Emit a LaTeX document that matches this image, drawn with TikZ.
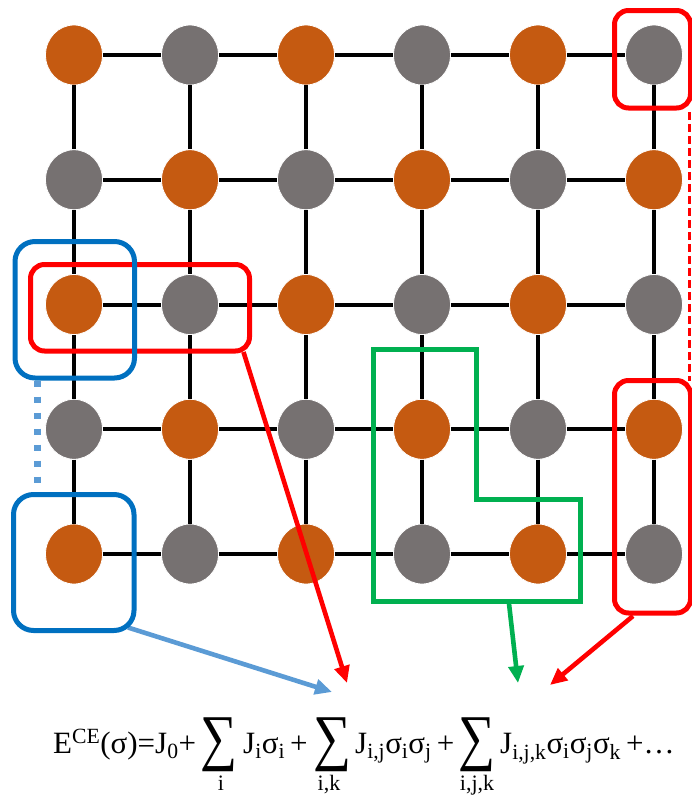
\documentclass[tikz,border=0pt]{standalone}
\usepackage{fontspec}
\usepackage{graphicx}
\setmainfont{Liberation Serif}
\usetikzlibrary{shapes.geometric,arrows.meta}

\definecolor{siteO}{HTML}{C55A11}
\definecolor{siteG}{HTML}{767171}
\definecolor{clusterR}{HTML}{FF0000}
\definecolor{clusterB}{HTML}{0070C0}
\definecolor{linkB}{HTML}{5B9BD5}
\definecolor{clusterG}{HTML}{00B050}

\pgfdeclarelayer{lattice}
\pgfdeclarelayer{links}
\pgfsetlayers{lattice,links,main}

\begin{document}
\begin{tikzpicture}[x=1pt,y=-1pt,
  site/.style={ellipse,minimum width=57pt,minimum height=60pt,inner sep=0pt,draw=white,line width=0.8pt},
  siteo/.style={site,fill=siteO},
  siteg/.style={site,fill=siteG},
  bond/.style={line width=4pt,black},
  clusterbox/.style={rectangle,inner sep=0pt,outer sep=0pt,line width=5pt},
  redbox/.style={clusterbox,draw=clusterR,rounded corners=14pt},
  bluebox/.style={clusterbox,draw=clusterB,rounded corners=20pt},
  pointer/.style={line width=4.6pt,-{Triangle[length=17pt,width=15pt]}},
  eqtext/.style={anchor=base west,inner sep=0pt,font=\fontsize{31}{37}\selectfont},
  limtext/.style={anchor=base,inner sep=0pt,font=\fontsize{22}{26}\selectfont},
  sumsign/.style={anchor=north west,inner sep=0pt}
]
\useasboundingbox (0,0) rectangle (692,796);

\begin{pgfonlayer}{lattice}
% lattice sites, alternating species
\foreach \r in {0,...,4}{
  \foreach \c in {0,...,5}{
    \pgfmathtruncatemacro\parity{mod(\r+\c,2)}
    \ifnum\parity=0
      \node[siteo] (n\r\c) at ({74+116*\c},{55+124.75*\r}) {};
    \else
      \node[siteg] (n\r\c) at ({74+116*\c},{55+124.75*\r}) {};
    \fi
  }
}
% nearest-neighbour bonds
\foreach \r in {0,...,4}{
  \foreach \c [evaluate=\c as \cn using int(\c+1)] in {0,...,4}{
    \draw[bond] (n\r\c) -- (n\r\cn);
  }
}
\foreach \r [evaluate=\r as \rn using int(\r+1)] in {0,...,3}{
  \foreach \c in {0,...,5}{
    \draw[bond] (n\r\c) -- (n\rn\c);
  }
}
\end{pgfonlayer}

% cluster frames
\node[redbox,minimum width=76pt,minimum height=97.5pt] (trbox) at (652.5,59.25) {};
\node[redbox,minimum width=219pt,minimum height=86.5pt] (pairbox) at (140,307.75) {};
\node[bluebox,minimum width=119.5pt,minimum height=136.5pt] (blueA) at (74.75,309.75) {};
\node[bluebox,minimum width=120.5pt,minimum height=136pt] (blueB) at (73.75,562.5) {};
\node[redbox,minimum width=76pt,minimum height=232.5pt] (rrbox) at (652.5,496.75) {};

% L-shaped triplet cluster
\draw[clusterG,line width=5pt] (373.5,349.5) -- (476.5,349.5) -- (476.5,499.5)
  -- (580.5,499.5) -- (580.5,601.5) -- (373.5,601.5) -- cycle;

% arrow targets
\coordinate (tipA) at (332,692);
\coordinate (tipB) at (347,683);
\coordinate (tipC) at (518,683);
\coordinate (tipD) at (550,685);
\coordinate (gbot) at (509,601.5);

\begin{pgfonlayer}{links}
% equivalence links between frames
\draw[clusterR,line width=2.6pt,dash pattern=on 8pt off 4pt]
  ([xshift=-1pt,yshift=-4pt]trbox.south east) -- ([xshift=-1pt]rrbox.north east);
\draw[linkB,line width=7pt,dash pattern=on 6pt off 10pt]
  ([xshift=22pt,yshift=-2.5pt]blueA.south west) -- ([xshift=23.5pt]blueB.north west);
% pointers to the expansion terms
\draw[pointer,linkB] ([xshift=-6pt,yshift=3pt]blueB.south east) -- (tipA);
\draw[pointer,clusterR] ([xshift=-6pt,yshift=-1pt]pairbox.south east) -- (tipB);
\draw[pointer,clusterG] ([yshift=-2pt]gbot) -- (tipC);
\draw[pointer,clusterR] ([xshift=18.5pt,yshift=-3pt]rrbox.south west) -- (tipD);
\end{pgfonlayer}

% cluster expansion
\node[eqtext] (eqa) at (53,753) {E\textsuperscript{CE}(σ)=J\textsubscript{0}+};
\node[sumsign] (sum1) at (200,718) {\resizebox*{37pt}{54pt}{∑}};
\node[limtext] (lim1) at (221,790) {i};
\node[eqtext] (eqb) at (243,753) {J\textsubscript{i}σ\textsubscript{i}\,+};
\node[sumsign] (sum2) at (313,718) {\resizebox*{38pt}{54pt}{∑}};
\node[limtext] (lim2) at (329,790) {i,k};
\node[eqtext] (eqc) at (355,753) {J\textsubscript{i,j}σ\textsubscript{i}σ\textsubscript{j}\,+};
\node[sumsign] (sum3) at (458,718) {\resizebox*{37pt}{54pt}{∑}};
\node[limtext] (lim3) at (477,790) {i,j,k};
\node[eqtext] (eqd) at (500,753) {J\textsubscript{i,j,k}σ\textsubscript{i}σ\textsubscript{j}σ\textsubscript{k}\,+…};
\end{tikzpicture}
\end{document}
